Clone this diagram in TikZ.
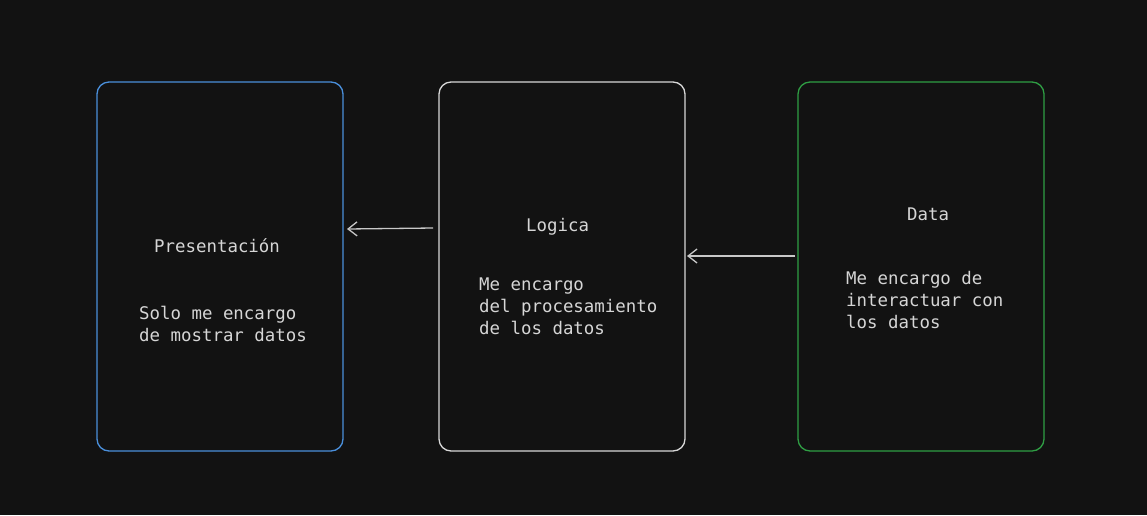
\documentclass[tikz,border=0pt]{standalone}
\usepackage{fontspec}
\setmonofont{DejaVu Sans Mono}
\usetikzlibrary{arrows.meta}
\definecolor{bg}{HTML}{121212}
\definecolor{txt}{HTML}{D6D6D6}
\definecolor{bluebox}{HTML}{4A8FDB}
\definecolor{whitebox}{HTML}{D8D8D8}
\definecolor{greenbox}{HTML}{2F9E44}
\definecolor{arrowc}{HTML}{C8C8C8}
\tikzset{
  layer/.style={draw=#1, line width=1.3pt, rounded corners=12pt, minimum width=246pt, minimum height=369pt, inner sep=0pt},
  lbl/.style={text=txt, anchor=base west, inner sep=0pt, font=\ttfamily\fontsize{17.4}{22}\selectfont},
  conn/.style={draw=arrowc, line width=1.3pt, -{Straight Barb[length=9pt,width=14pt,line width=1.3pt]}}
}
\begin{document}
\begin{tikzpicture}[x=1pt,y=-1pt]
\fill[bg] (0,0) rectangle (1147,515);
\useasboundingbox (0,0) rectangle (1147,515);
\node[layer=bluebox] (pres) at (220,266.5) {};
\node[layer=whitebox] (logi) at (562,266.5) {};
\node[layer=greenbox] (data) at (921,266.5) {};
% texts
\node[lbl] (t1) at (154,252) {Presentación};
\node[lbl] (t2) at (139,319) {Solo me encargo};
\node[lbl] (t3) at (139,341) {de mostrar datos};
\node[lbl] (t4) at (526,231) {Logica};
\node[lbl] (t5) at (479,290) {Me encargo};
\node[lbl] (t6) at (479,312) {del procesamiento};
\node[lbl] (t7) at (479,334) {de los datos};
\node[lbl] (t8) at (907,220) {Data};
\node[lbl] (t9) at (846,284) {Me encargo de};
\node[lbl] (t10) at (846,306) {interactuar con};
\node[lbl] (t11) at (846,328) {los datos};
% connectors
\coordinate (a1s) at (433,228);
\coordinate (a1e) at (347,229);
\coordinate (a2s) at (795,256);
\coordinate (a2e) at (687,256);
\draw[conn] (a1s) -- (a1e);
\draw[conn] (a2s) -- (a2e);
\end{tikzpicture}
\end{document}
